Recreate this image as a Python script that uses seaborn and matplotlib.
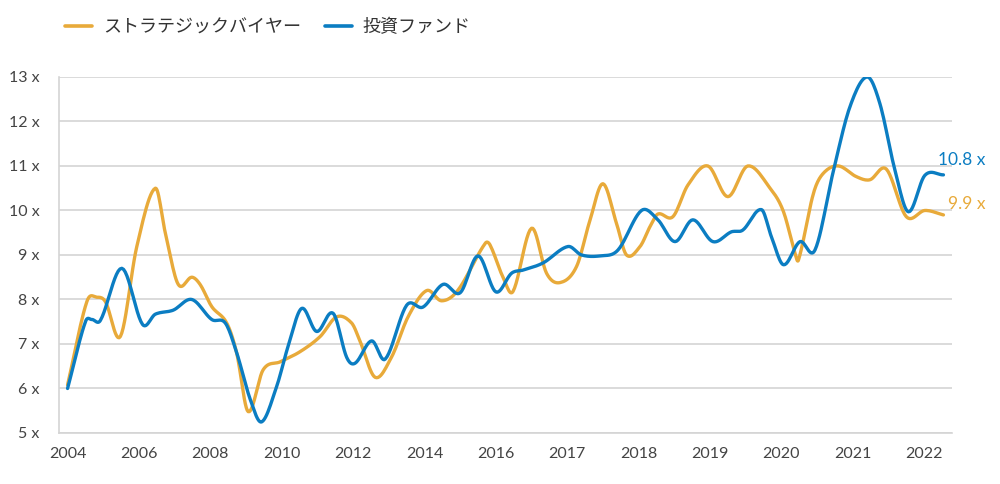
import matplotlib
matplotlib.use("Agg")
from matplotlib import pyplot as plt
import numpy as np
import pandas as pd
import seaborn as sns

# x positions are in "tick slot" units (0 = 2004 ... 12 = 2022)
tick_labels = ["2004", "2006", "2008", "2010", "2012", "2014", "2016",
               "2017", "2018", "2019", "2020", "2021", "2022"]

fund_x = [0.00, 0.25, 0.34, 0.46, 0.76, 1.05, 1.23, 1.48, 1.74, 2.02, 2.21,
          2.37, 2.56, 2.72, 2.93, 3.09, 3.28, 3.49, 3.72, 3.91, 4.03, 4.26,
          4.45, 4.75, 4.98, 5.26, 5.50, 5.75, 6.00, 6.22, 6.38, 6.66, 7.01,
          7.20, 7.46, 7.71, 8.04, 8.27, 8.51, 8.76, 9.04, 9.30, 9.46, 9.72,
          9.86, 10.03, 10.26, 10.47, 10.73, 10.96, 11.20, 11.38, 11.59,
          11.78, 12.01, 12.27]
fund_y = [6.00, 7.50, 7.55, 7.53, 8.70, 7.44, 7.67, 7.76, 8.00, 7.55, 7.47,
          6.80, 5.75, 5.25, 6.05, 6.95, 7.80, 7.28, 7.69, 6.70, 6.57, 7.07,
          6.66, 7.87, 7.83, 8.34, 8.15, 8.98, 8.17, 8.59, 8.66, 8.82, 9.19,
          9.00, 8.98, 9.11, 10.00, 9.79, 9.30, 9.79, 9.30, 9.52, 9.56, 10.02,
          9.41, 8.78, 9.30, 9.11, 10.90, 12.33, 13.00, 12.40, 10.91,
          9.97, 10.79, 10.80]

strat_x = [0.00, 0.27, 0.41, 0.53, 0.74, 0.97, 1.23, 1.37, 1.55, 1.74, 1.86,
           2.02, 2.23, 2.37, 2.53, 2.74, 2.98, 3.26, 3.54, 3.77, 3.98, 4.10,
           4.31, 4.54, 4.77, 5.03, 5.24, 5.47, 5.85, 5.92, 6.10, 6.24, 6.50,
           6.71, 6.90, 7.13, 7.32, 7.50, 7.69, 7.83, 8.02, 8.16, 8.27, 8.48,
           8.69, 8.97, 9.25, 9.53, 9.86, 10.03, 10.19, 10.24, 10.45, 10.59,
           10.80, 11.05, 11.24, 11.47, 11.75, 12.01, 12.27]
strat_y = [6.08, 7.95, 8.05, 7.95, 7.17, 9.19, 10.50, 9.49, 8.34, 8.50, 8.33,
           7.84, 7.47, 6.79, 5.48, 6.42, 6.60, 6.83, 7.17, 7.61, 7.47, 7.05,
           6.25, 6.71, 7.61, 8.20, 7.97, 8.21, 9.26, 9.22, 8.50, 8.18, 9.60,
           8.59, 8.38, 8.74, 9.79, 10.60, 9.71, 9.00, 9.19, 9.64, 9.92, 9.86,
           10.57, 11.00, 10.31, 11.00, 10.46, 9.97, 9.04, 8.89, 10.39, 10.84,
           11.00, 10.76, 10.69, 10.93, 9.86, 10.00, 9.90]

names = ["ストラテジックバイヤー", "投資ファンド"]
colors = ["#E8AA3A", "#0B7DC2"]


def smooth(x, y, n=12):
    # hermite curve through the points, like a "smoothed line" chart
    x = np.asarray(x, float)
    y = np.asarray(y, float)
    m = np.zeros_like(y)
    m[1:-1] = (y[2:] - y[:-2]) / (x[2:] - x[:-2])
    m[0] = (y[1] - y[0]) / (x[1] - x[0])
    m[-1] = (y[-1] - y[-2]) / (x[-1] - x[-2])
    xs, ys = [], []
    for i in range(len(x) - 1):
        dx = x[i + 1] - x[i]
        t = np.linspace(0, 1, n, endpoint=False)
        h00 = 2 * t**3 - 3 * t**2 + 1
        h10 = t**3 - 2 * t**2 + t
        h01 = -2 * t**3 + 3 * t**2
        h11 = t**3 - t**2
        xs.append(x[i] + t * dx)
        ys.append(h00 * y[i] + h10 * dx * m[i] + h01 * y[i + 1] + h11 * dx * m[i + 1])
    xs.append([x[-1]])
    ys.append([y[-1]])
    return np.concatenate(xs), np.concatenate(ys)


frames = []
for nm, xx, yy in [(names[0], strat_x, strat_y), (names[1], fund_x, fund_y)]:
    sx, sy = smooth(xx, yy)
    frames.append(pd.DataFrame({"pos": sx, "val": sy, "series": nm}))
df = pd.concat(frames, ignore_index=True)

sns.set_style("white")
plt.rcParams['font.family'] = ['Noto Sans CJK JP', 'DejaVu Sans']
lat = ['Lato', 'DejaVu Sans']

fig = plt.figure(figsize=(10, 4.84), dpi=100)
ax = fig.add_axes([0.059, 0.1054, 0.893, 0.7356])

sns.lineplot(data=df, x="pos", y="val", hue="series", palette=colors,
             hue_order=names, lw=2.4, sort=False, estimator=None,
             legend=False, ax=ax)

ax.set_xlim(-0.12, 12.39)
ax.set_ylim(5, 13)
ax.set_yticks(range(5, 14))
ax.set_yticklabels(["%d x" % v for v in range(5, 14)], fontsize=11.5,
                   color="#444444", family=lat)
ax.set_xticks(range(len(tick_labels)))
ax.set_xticklabels(tick_labels, fontsize=11.5, color="#444444", family=lat)
ax.tick_params(axis='x', length=0, pad=10)
ax.tick_params(axis='y', length=0, pad=14)
ax.set_xlabel("")
ax.set_ylabel("")
ax.grid(axis='y', color="#d4d4d4", lw=1.2)
ax.set_axisbelow(True)
for s in ["top", "right"]:
    ax.spines[s].set_visible(False)
for s in ["left", "bottom"]:
    ax.spines[s].set_color("#d4d4d4")
    ax.spines[s].set_linewidth(1.2)

# end value labels
ax.text(12.86, fund_y[-1] + 0.33, "%.1f x" % fund_y[-1], color=colors[1],
        fontsize=12.5, ha="right", va="center", family=lat, clip_on=False)
ax.text(12.86, strat_y[-1] + 0.25, "%.1f x" % strat_y[-1], color=colors[0],
        fontsize=12.5, ha="right", va="center", family=lat, clip_on=False)

handles = [plt.Line2D([], [], color=c, lw=2.6) for c in colors]
fig.legend(handles, names, loc="center left", bbox_to_anchor=(0.049, 0.943),
           ncol=2, frameon=False, fontsize=13, handlelength=1.5,
           handletextpad=0.6, columnspacing=1.3,
           labelcolor="#333333")

fig.savefig("out.png", dpi=100)
